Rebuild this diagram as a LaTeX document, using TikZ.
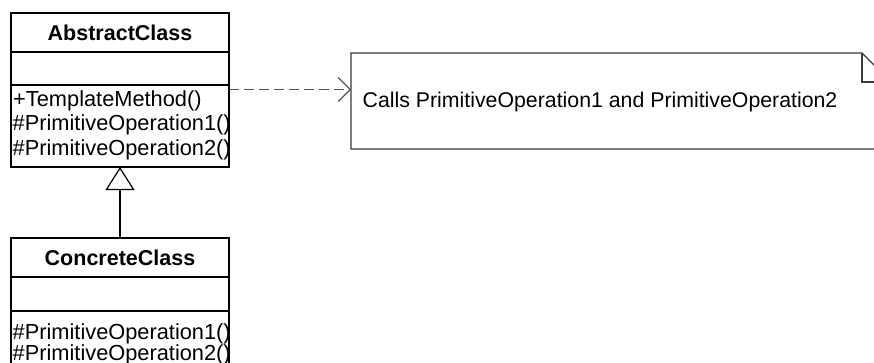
\documentclass[tikz,border=0pt]{standalone}
\usepackage{fontspec}
\setmainfont{Liberation Sans}
\usetikzlibrary{arrows.meta}
\definecolor{noteline}{HTML}{3A3A3A}
\definecolor{depline}{HTML}{555555}
\tikzset{
  classpart/.style={draw=black, line width=1.5pt, rectangle, minimum width=218pt,
    inner sep=0pt, outer sep=0pt, fill=white},
  classname/.style={font=\fontsize{21.5}{24}\selectfont\bfseries, inner sep=0pt},
  optext/.style={font=\fontsize{21.8}{24}\selectfont, inner sep=0pt, anchor=base west},
  notetext/.style={font=\fontsize{21.3}{24}\selectfont, inner sep=0pt, anchor=base west},
  notebox/.style={rectangle, inner sep=0pt, outer sep=0pt, minimum width=540pt, minimum height=96pt},
  noteedge/.style={draw=noteline, line width=1.1pt, line join=miter},
  generalize/.style={draw=black, line width=1.2pt,
    -{Triangle[open, length=23pt, width=29pt, line width=1.2pt]}},
  dependency/.style={draw=depline, line width=1.6pt, dash pattern=on 9.5pt off 5.5pt,
    -{Straight Barb[length=12pt, width=24pt, line width=1.2pt]}},
}
\begin{document}
\begin{tikzpicture}[x=1pt, y=-1pt]
  \useasboundingbox (0,0) rectangle (874,362);
  \clip (0,0) rectangle (874,362);
  \fill[white] (0,0) rectangle (874,362);

  % AbstractClass
  \node[classpart, minimum height=39pt] (absName) at (120,32.5) {};
  \node[classname] (absTitle) at (absName.center) {AbstractClass};
  \node[classpart, minimum height=33pt] (absAttr) at (120,68.5) {};
  \node[classpart, minimum height=82pt] (absOps) at (120,126) {};
  \node[optext] (absOp1) at (13,106) {+TemplateMethod()};
  \node[optext] (absOp2) at (12.5,130.5) {\#PrimitiveOperation1()};
  \node[optext] (absOp3) at (12.5,155) {\#PrimitiveOperation2()};

  % ConcreteClass
  \node[classpart, minimum height=39pt] (concName) at (120,257.5) {};
  \node[classname] (concTitle) at (concName.center) {ConcreteClass};
  \node[classpart, minimum height=34pt] (concAttr) at (120,294) {};
  \node[classpart, minimum height=68pt] (concOps) at (120,345) {};
  \node[optext] (concOp1) at (12.5,339) {\#PrimitiveOperation1()};
  \node[optext] (concOp2) at (12.5,360) {\#PrimitiveOperation2()};

  % Note with folded corner
  \node[notebox] (note) at (621,101) {};
  \draw[noteedge] (note.north west) -- ([xshift=-29pt]note.north east)
    -- ([yshift=-29pt]note.north east) -- (note.south east)
    -- (note.south west) -- cycle;
  \draw[noteedge] ([xshift=-29pt]note.north east) -- ([xshift=-29pt, yshift=-29pt]note.north east)
    -- ([yshift=-29pt]note.north east);
  \node[notetext] (noteText) at (362.5,107) {Calls PrimitiveOperation1 and PrimitiveOperation2};

  % Connectors
  \draw[generalize] (concName.north) -- (absOps.south);
  \coordinate (depY) at (0,89.5);
  \draw[dependency] (absOps.east |- depY) -- (note.west |- depY);
\end{tikzpicture}
\end{document}
